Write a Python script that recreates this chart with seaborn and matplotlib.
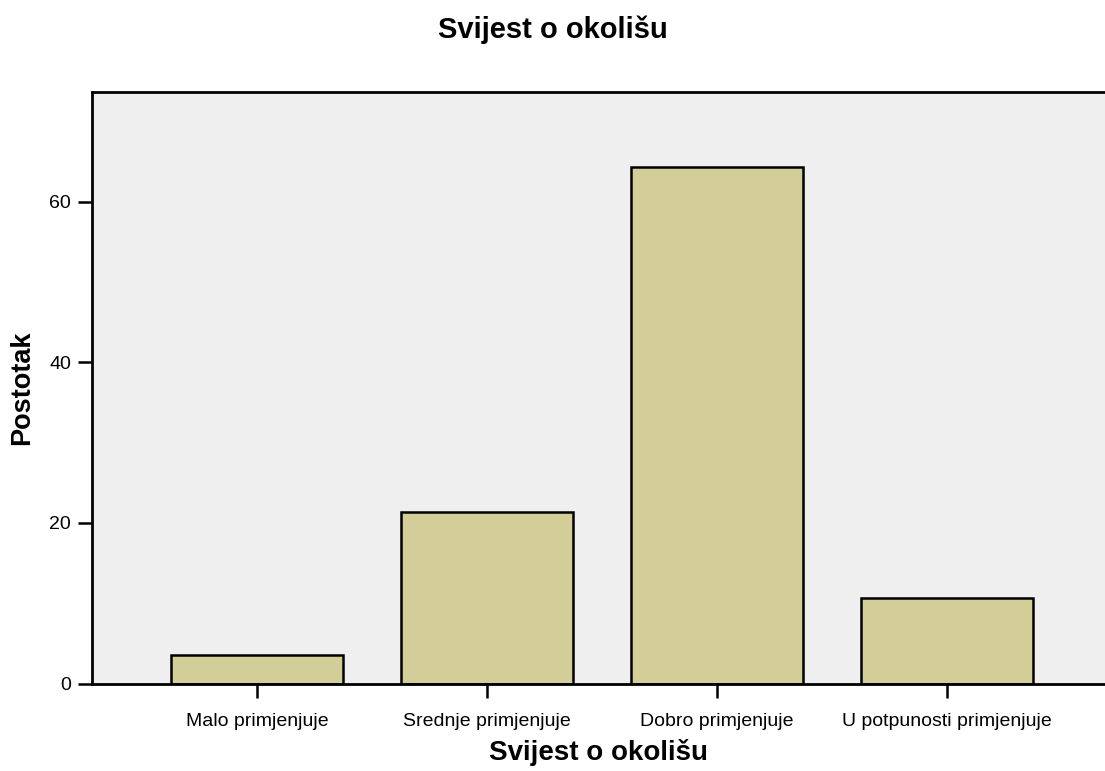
import matplotlib
matplotlib.use("Agg")
import matplotlib.pyplot as plt
import seaborn as sns
import pandas as pd

# Data
categories = ["Malo primjenjuje", "Srednje primjenjuje", "Dobro primjenjuje",
              "U potpunosti primjenjuje"]
percent = [3.6, 21.4, 64.3, 10.7]
y_ticks = [0, 20, 40, 60]

df = pd.DataFrame({"kategorija": categories, "postotak": percent})

sns.set_theme(style="white")
plt.rcParams['font.family'] = ['Liberation Sans', 'DejaVu Sans']
plt.rcParams['text.color'] = 'black'
plt.rcParams['axes.labelcolor'] = 'black'
plt.rcParams['xtick.color'] = 'black'
plt.rcParams['ytick.color'] = 'black'

fig = plt.figure(figsize=(11.05, 7.71), dpi=100)
ax = fig.add_axes([92 / 1105, (771 - 683.5) / 771, (1105 - 92) / 1105, (683.5 - 91.7) / 771])
ax.set_facecolor("#efefef")

sns.barplot(data=df, x="kategorija", y="postotak", ax=ax, color="#d3ce98",
            saturation=1, width=0.75, edgecolor="black", linewidth=1.8)

ax.set_xlim(-0.717, 3.687)
ax.set_ylim(0, 73.7)
ax.set_yticks(y_ticks)
ax.set_yticklabels([str(t) for t in y_ticks], fontsize=14)
ax.tick_params(axis="x", labelsize=14, length=10, width=1.8, direction="out",
               bottom=True, pad=11)
ax.tick_params(axis="y", length=10, width=1.8, direction="out", left=True,
               pad=5)

for side in ["left", "bottom", "top"]:
    ax.spines[side].set_visible(True)
    ax.spines[side].set_color("black")
    ax.spines[side].set_linewidth(2)
ax.spines["right"].set_visible(False)

ax.set_xlabel("Svijest o okolišu", fontsize=20, fontweight="bold", labelpad=7)
ax.set_ylabel("Postotak", fontsize=19.5, fontweight="bold", labelpad=10)
fig.suptitle("Svijest o okolišu", fontsize=21, fontweight="bold", y=0.98)

fig.savefig("out.png", dpi=100)
